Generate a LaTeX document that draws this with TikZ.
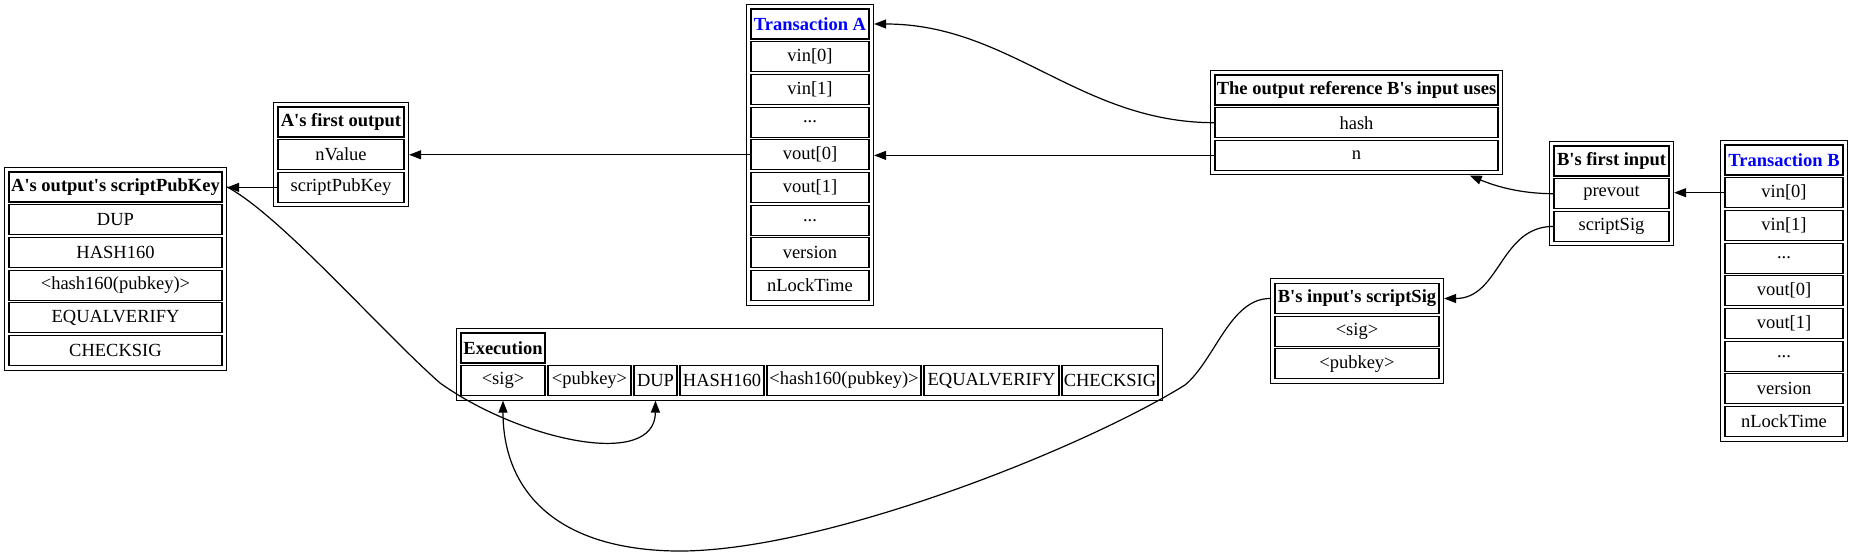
\documentclass[tikz,border=0pt]{standalone}
\usepackage{fontspec}
\setmainfont{Liberation Serif}
\usetikzlibrary{arrows.meta,fit}
\newcommand{\apos}{\textquotesingle}
\tikzset{
  cell/.style={draw,line width=1.1bp,minimum height=30bp,minimum width=#1,inner sep=0pt},
  hcell/.style={cell=#1,font=\fontsize{18.5bp}{22bp}\selectfont\bfseries},
  tbl/.style={draw,line width=1.1bp,inner sep=4bp},
  edge/.style={line width=1.2bp,-{Triangle[length=12bp,width=9bp]}}
}
\begin{document}
\begin{tikzpicture}[x=1bp,y=-1bp,font=\fontsize{18.5bp}{22bp}\selectfont]
\useasboundingbox (0,0) rectangle (1853,559);
% A's output's scriptPubKey
\node(spk-h)[hcell=213bp] at (115.5,187){A\apos s output\apos s scriptPubKey};
\node(spk-dup)[cell=213bp] at (115.5,219.7){DUP};
\node(spk-hash)[cell=213bp] at (115.5,252.4){HASH160};
\node(spk-pkh)[cell=213bp] at (115.5,285.1){<hash160(pubkey)>};
\node(spk-eq)[cell=213bp] at (115.5,317.8){EQUALVERIFY};
\node(spk-chk)[cell=213bp] at (115.5,350.5){CHECKSIG};
\node(spk)[tbl,fit=(spk-h)(spk-chk)]{};
% A's first output
\node(aO-h)[hcell=126bp] at (341,122){A\apos s first output};
\node(aO-nv)[cell=126bp] at (341,154.7){nValue};
\node(aO-spk)[cell=126bp] at (341,187.4){scriptPubKey};
\node(aO)[tbl,fit=(aO-h)(aO-spk)]{};
% Transaction A
\node(tA-h)[hcell=118bp,text=blue] at (810,24){Transaction A};
\node(tA-vin0)[cell=118bp] at (810,56.7){vin[0]};
\node(tA-vin1)[cell=118bp] at (810,89.4){vin[1]};
\node(tA-d1)[cell=118bp] at (810,122.1){...};
\node(tA-vout0)[cell=118bp] at (810,154.8){vout[0]};
\node(tA-vout1)[cell=118bp] at (810,187.5){vout[1]};
\node(tA-d2)[cell=118bp] at (810,220.2){...};
\node(tA-ver)[cell=118bp] at (810,252.9){version};
\node(tA-lock)[cell=118bp] at (810,285.6){nLockTime};
\node(tA)[tbl,fit=(tA-h)(tA-lock)]{};
% output reference
\node(ref-h)[hcell=283bp] at (1356.5,90){The output reference B\apos s input uses};
\node(ref-hash)[cell=283bp] at (1356.5,122.7){hash};
\node(ref-n)[cell=283bp] at (1356.5,155.4){n};
\node(ref)[tbl,fit=(ref-h)(ref-n)]{};
% B's first input
\node(bI-h)[hcell=115bp] at (1611.5,161){B\apos s first input};
\node(bI-prev)[cell=115bp] at (1611.5,193.7){prevout};
\node(bI-ss)[cell=115bp] at (1611.5,226.4){scriptSig};
\node(bI)[tbl,fit=(bI-h)(bI-ss)]{};
% Transaction B
\node(tB-h)[hcell=118bp,text=blue] at (1784,160){Transaction B};
\node(tB-vin0)[cell=118bp] at (1784,192.7){vin[0]};
\node(tB-vin1)[cell=118bp] at (1784,225.4){vin[1]};
\node(tB-d1)[cell=118bp] at (1784,258.1){...};
\node(tB-vout0)[cell=118bp] at (1784,290.8){vout[0]};
\node(tB-vout1)[cell=118bp] at (1784,323.5){vout[1]};
\node(tB-d2)[cell=118bp] at (1784,356.2){...};
\node(tB-ver)[cell=118bp] at (1784,388.9){version};
\node(tB-lock)[cell=118bp] at (1784,421.6){nLockTime};
\node(tB)[tbl,fit=(tB-h)(tB-lock)]{};
% B's input's scriptSig
\node(bss-h)[hcell=164bp] at (1357,298.5){B\apos s input\apos s scriptSig};
\node(bss-sig)[cell=164bp] at (1357,331.2){<sig>};
\node(bss-pk)[cell=164bp] at (1357,363.9){<pubkey>};
\node(bss)[tbl,fit=(bss-h)(bss-pk)]{};
% Execution
\node(ex-h)[hcell=84bp] at (503,348){Execution};
\node(ex-sig)[cell=84bp] at (503,380.5){<sig>};
\node(ex-pk)[cell=83bp] at (589.5,380.5){<pubkey>};
\node(ex-dup)[cell=43bp] at (655.5,380.5){DUP};
\node(ex-hash)[cell=84bp] at (722,380.5){HASH160};
\node(ex-pkh)[cell=154bp] at (844,380.5){<hash160(pubkey)>};
\node(ex-eq)[cell=135bp] at (991.5,380.5){EQUALVERIFY};
\node(ex-chk)[cell=96bp] at (1110,380.5){CHECKSIG};
\node(ex)[tbl,fit=(ex-h)(ex-sig)(ex-chk)]{};
% edges
\draw[edge] (aO-spk.west) -- (spk.east |- aO-spk);
\draw[edge] (tA-vout0.west) -- (aO.east |- tA-vout0);
\draw[edge] (ref-hash.west) .. controls (1080,122.7) and (1010,24) .. (tA.east |- tA-h);
\draw[edge] (ref-n.west) -- (tA.east |- ref-n);
\draw[edge] (bI-prev.west) .. controls (1520,193.7) and (1495,186) .. (ref.-25);
\draw[edge] (bI-ss.west) .. controls (1500,226.4) and (1500,298.5) .. (bss.east |- bss-h);
\draw[edge] (tB-vin0.west) -- (bI.east |- tB-vin0);
\draw[edge] (bss.west |- bss-h) .. controls (1230,298.5) and (1215,360) .. (1185,385)
  .. controls (1080,450) and (820,553) .. (675,551)
  .. controls (555,549) and (503,490) .. (ex.south -| ex-sig);
\draw[edge] (spk.east |- spk-h) .. controls (280,215) and (380,330) .. (440,383)
  .. controls (520,440) and (655,470) .. (ex.south -| ex-dup);
\end{tikzpicture}
\end{document}
